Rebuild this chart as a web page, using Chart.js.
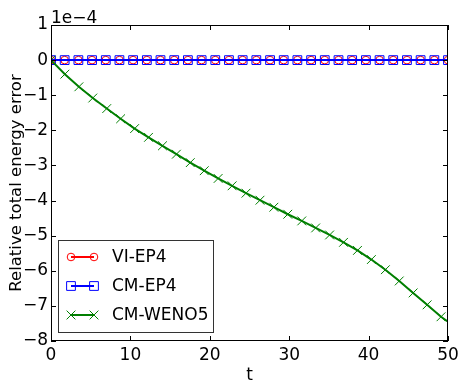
<!DOCTYPE html>
<html>
<head>
<meta charset="utf-8">
<script src="https://cdn.jsdelivr.net/npm/chart.js@4/dist/chart.umd.min.js"></script>
<style>
  body { margin: 0; background: #fff; }
  canvas { display: block; }
</style>
</head>
<body>
<canvas id="grafEnergia" width="463" height="386"></canvas>
<script>
// time samples for the two energy-preserving runs
const tEP = [0, 1.72, 3.45, 5.17, 6.90, 8.62, 10.34, 12.07, 13.79, 15.52, 17.24, 18.97, 20.69, 22.41, 24.14,
             25.86, 27.59, 29.31, 31.03, 32.76, 34.48, 36.21, 37.93, 39.66, 41.38, 43.10, 44.83, 46.55, 48.28, 50]
const errVIEP4 = [0, 0, 0, 0, 0, 0, 0, 0, 0, 0, 0, 0, 0, 0, 0, 0, 0, 0, 0, 0, 0, 0, 0, 0, 0, 0, 0, 0, 0, 0]
const errCMEP4 = [0, 0, 0, 0, 0, 0, 0, 0, 0, 0, 0, 0, 0, 0, 0, 0, 0, 0, 0, 0, 0, 0, 0, 0, 0, 0, 0, 0, 0, 0]

// WENO5 run (values in units of 1e-4)
const tWENO = [0, 1.75, 3.51, 5.26, 7.02, 8.77, 10.53, 12.28, 14.04, 15.79, 17.54, 19.30, 21.05, 22.81, 24.56,
               26.32, 28.07, 29.82, 31.58, 33.33, 35.09, 36.84, 38.60, 40.35, 42.11, 43.86, 45.61, 47.37, 49.12, 50]
const errWENO5 = [0, -0.40, -0.76, -1.08, -1.38, -1.67, -1.95, -2.20, -2.44, -2.68, -2.92, -3.15, -3.37, -3.58, -3.79,
                  -3.99, -4.19, -4.39, -4.58, -4.78, -4.98, -5.19, -5.42, -5.68, -5.97, -6.29, -6.63, -6.97, -7.31, -7.45]

const xTicks = [0, 10, 20, 30, 40, 50]
const yTicks = [1, 0, -1, -2, -3, -4, -5, -6, -7, -8]
const escala = '1e\u22124'

const fuente = 'DejaVu Sans'
const radioCirculo = 3.8
const radioCuadro = 6.2
const radioCruz = 6.2

function puntos(ts, vs) {
    return ts.map((t, i) => ({x: t, y: vs[i]}))
}

// ticks hacia adentro en los cuatro lados, marco y texto de escala
const marcoPlugin = {
    id: 'marco',
    afterDatasetsDraw(chart) {
        const {ctx, chartArea: a, scales} = chart
        ctx.save()
        ctx.strokeStyle = '#000'
        ctx.lineWidth = 1
        ctx.beginPath()
        xTicks.forEach(v => {
            let px = Math.round(scales.x.getPixelForValue(v)) + 0.5
            ctx.moveTo(px, a.bottom); ctx.lineTo(px, a.bottom - 5)
            ctx.moveTo(px, a.top); ctx.lineTo(px, a.top + 5)
        })
        yTicks.forEach(v => {
            let py = Math.round(scales.y.getPixelForValue(v)) + 0.5
            ctx.moveTo(a.left, py); ctx.lineTo(a.left + 5, py)
            ctx.moveTo(a.right, py); ctx.lineTo(a.right - 5, py)
        })
        ctx.stroke()
        ctx.strokeRect(a.left + 0.5, a.top + 0.5, a.right - a.left - 1, a.bottom - a.top - 1)

        ctx.fillStyle = '#000'
        ctx.font = '17px ' + fuente
        ctx.textAlign = 'left'
        ctx.textBaseline = 'alphabetic'
        ctx.fillText(escala, a.left, a.top - 2)
        ctx.restore()
    }
}

// leyenda con linea y marcador en ambos extremos
const leyendaPlugin = {
    id: 'leyenda',
    afterDraw(chart) {
        const ctx = chart.ctx
        ctx.save()
        ctx.fillStyle = '#fff'
        ctx.fillRect(58, 240, 155, 92)
        ctx.strokeStyle = '#333'
        ctx.lineWidth = 1
        ctx.strokeRect(58.5, 240.5, 155, 92)
        ctx.font = '17px ' + fuente
        ctx.textBaseline = 'middle'
        chart.data.datasets.forEach((ds, i) => {
            let y = 257 + i * 29
            ctx.strokeStyle = ds.borderColor
            ctx.lineWidth = ds.borderWidth
            ctx.beginPath()
            ctx.moveTo(71, y); ctx.lineTo(94, y)
            ctx.stroke()
            ;[71, 94].forEach(x => {
                ctx.strokeStyle = ds.pointBorderColor
                ctx.fillStyle = 'rgba(0,0,0,0)'
                ctx.lineWidth = ds.pointBorderWidth
                Chart.helpers.drawPoint(ctx, {pointStyle: ds.pointStyle, radius: ds.radioLeyenda, rotation: 0, borderWidth: ds.pointBorderWidth}, x, y)
            })
            ctx.fillStyle = '#000'
            ctx.fillText(ds.label, 112, y + 1)
        })
        ctx.restore()
    }
}

let grafEnergia = new Chart(document.getElementById('grafEnergia'), {
    type: 'scatter',
    plugins: [marcoPlugin, leyendaPlugin],
    data: {
        datasets: [
            {
                label: 'VI-EP4',
                data: puntos(tEP, errVIEP4),
                showLine: true,
                borderColor: '#ff0000',
                borderWidth: 2,
                pointStyle: 'circle',
                pointRadius: radioCirculo,
                radioLeyenda: radioCirculo,
                pointBorderColor: '#ff0000',
                pointBackgroundColor: 'rgba(0,0,0,0)',
                pointBorderWidth: 1,
                order: 3,
            },
            {
                label: 'CM-EP4',
                data: puntos(tEP, errCMEP4),
                showLine: true,
                borderColor: '#0000ff',
                borderWidth: 2,
                pointStyle: 'rect',
                pointRadius: radioCuadro,
                radioLeyenda: radioCuadro,
                pointBorderColor: '#0000ff',
                pointBackgroundColor: 'rgba(0,0,0,0)',
                pointBorderWidth: 1,
                order: 2,
            },
            {
                label: 'CM-WENO5',
                data: puntos(tWENO, errWENO5),
                showLine: true,
                borderColor: '#007f00',
                borderWidth: 2,
                pointStyle: 'crossRot',
                // el ultimo punto (t = 50) va sin marcador
                pointRadius: ctx => ctx.dataIndex === tWENO.length - 1 ? 0 : radioCruz,
                radioLeyenda: radioCruz,
                pointBorderColor: '#007f00',
                pointBackgroundColor: 'rgba(0,0,0,0)',
                pointBorderWidth: 1,
                order: 1,
            },
        ]
    },
    options: {
        responsive: false,
        animation: false,
        layout: {padding: {left: 0, top: 25, right: 15, bottom: 0}},
        plugins: {
            legend: {display: false},
            tooltip: {enabled: false},
        },
        scales: {
            x: {
                type: 'linear',
                min: 0,
                max: 50,
                afterFit: s => { s.height = 45 },
                afterBuildTicks: s => { s.ticks = xTicks.map(v => ({value: v})) },
                grid: {display: false, drawTicks: false},
                border: {display: false},
                ticks: {
                    color: '#000',
                    padding: 4,
                    maxRotation: 0,
                    font: {family: fuente, size: 17},
                    callback: v => String(v),
                },
                title: {
                    display: true,
                    text: 't',
                    color: '#000',
                    padding: {top: 0, bottom: 0},
                    font: {family: fuente, size: 17},
                },
            },
            y: {
                type: 'linear',
                min: -8,
                max: 1,
                afterFit: s => { s.width = 51 },
                afterBuildTicks: s => { s.ticks = yTicks.map(v => ({value: v})) },
                grid: {display: false, drawTicks: false},
                border: {display: false},
                ticks: {
                    color: '#000',
                    padding: 3,
                    font: {family: fuente, size: 17},
                    callback: v => String(v).replace('-', '\u2212'),
                },
                title: {
                    display: true,
                    text: 'Relative total energy error',
                    color: '#000',
                    padding: {top: 7, bottom: 0},
                    font: {family: fuente, size: 16.5},
                },
            },
        },
    },
})
</script>
</body>
</html>
